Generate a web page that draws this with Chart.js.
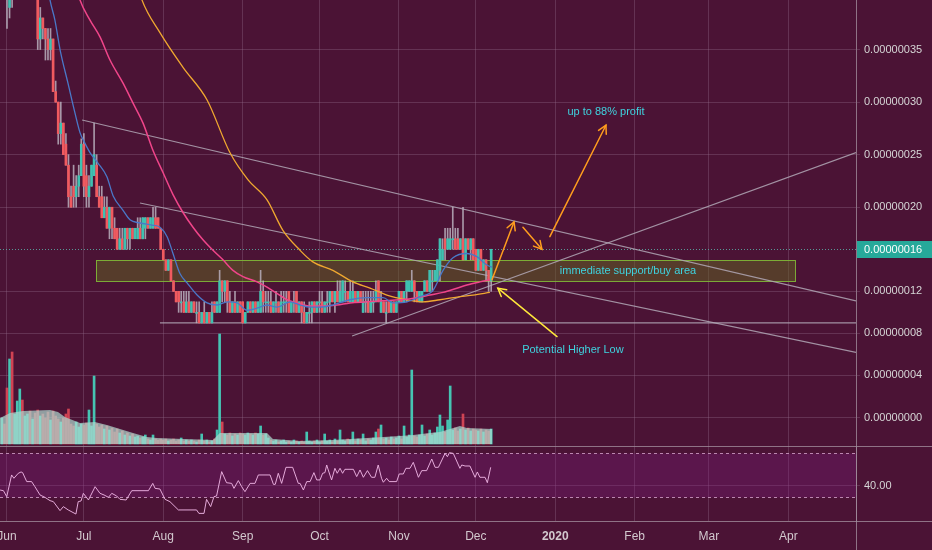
<!DOCTYPE html>
<html>
<head>
<meta charset="utf-8">
<script src="https://cdn.jsdelivr.net/npm/chart.js@4.4.1/dist/chart.umd.min.js"></script>
<style>
  html, body { margin: 0; padding: 0; background: #4b1335; }
  #wrap { position: relative; width: 932px; height: 550px; overflow: hidden; }
  #price { position: absolute; left: 0; top: 0; }
  #rsi { position: absolute; left: 0; top: 446px; }
</style>
</head>
<body>
<div id="wrap">
  <canvas id="price" width="932" height="446"></canvas>
  <canvas id="rsi" width="932" height="104"></canvas>
</div>
<script>
// Days are counted from 1 Jun 2019 (day 0). Prices are in satoshi (1e-8).
const FIRST_DAY = -2;            // first candle = 30 May 2019
const X_MIN = -2.73, X_MAX = 331.4;
const PRICE_MIN = -2.71, PRICE_MAX = 39.71;
const RSI_MIN = 8.32, RSI_MAX = 76.05;

// [open, high, low, close], one row per day
const ohlc = [
  [45,48,44,46],[46,47,42,43],[43,44,37,41],[39,44,38,41],[42,45,39,40],
  [41,46,40,45],[45,50,44,48],[48,52,45,49],[49,50,44,45],[45,49,43,47],
  [47,51,45,49],[49,50,44,45],[45,48,43,46],[46,47,42,43],[43,44,35,36],
  [36,39,35,38],[38,38,36,37],[37,37,34,36],[36,37,34,35],[35,37,34,36],
  [36,36,31,31],[31,32,30,30],[30,30,26,27],[27,30,26,28],[28,28,25,25],
  [26,27,24,24],[24,25,20,21],[21,22,20,20],[22,24,20,21],[21,23,20,22],
  [22,24,21,23],[23,26.5,23,26],[26,27,21,22],[23,24,20,21],[21,23,20,22],
  [22,24,22,24],[23,28,23,25],[24,25,21,21],[21,22,20,20],[21,22,19,19],
  [19,21,19,20],[20,21,18,18],[18,20,17,20],[20,20,17,18],[18,19,17,17],
  [18,18,16,16],[16,18,16,17],[17,18,16,16],[16,18,16,18],[18,18,16,17],
  [17,18,16,18],[18,18,17,17],[17,18,17,18],[17,19,17,18],[18,19,17,17],
  [17,19,17,19],[18,19,17,19],[19,19,18,18],[18,19,18,19],[18,20,18,19],
  [19,20,18,18],[19,19,18,18],[18,18,16,16],[16,16,15,15],[15,15,14,14],
  [14,15,14,15],[15,15,13,13],[13,13,12,12],[12,12,11,11],[12,12,10,11],
  [11,12,10,11],[11,12,10,10],[10,12,10,11],[11,12,10,10],[10,11,10,11],
  [11,11,10,10],[10,11,9,10],[10,11,9,9],[9,10,9,10],[10,11,9,9],
  [9,10,9,10],[10,10,9,9],[9,11,9,10],[11,11,10,10],[10,11,10,11],
  [10,14,10,13],[13,13,11,12],[12,13,11,13],[13,13,10,11],[11,12,10,10],
  [10,11,10,11],[11,12,10,10],[10,11,10,11],[11,11,10,10],[11,11,9,9],
  [9,10,9,10],[10,11,10,11],[11,11,10,10],[10,11,10,11],[11,11,10,10],
  [10,11,10,11],[10,14,10,12],[12,13,10,11],[11,12,10,11],[11,12,10,11],
  [11,12,10,10],[10,11,10,11],[11,12,10,11],[11,11,10,10],[10,12,10,11],
  [11,12,10,11],[11,12,10,11],[12,12,10,10],[10,11,10,11],[11,12,10,11],
  [12,12,10,10],[10,11,10,11],[11,11,9,10],[10,11,9,9],[9,10,9,10],
  [10,11,9,10],[10,11,9,11],[11,11,10,10],[10,11,10,11],[11,12,10,11],
  [11,12,10,10],[10,11,10,11],[11,12,10,11],[11,12,10,12],[12,12,11,11],
  [11,12,10,12],[12,13,11,11],[11,13,11,12],[11,13,11,13],[12,13,11,12],
  [12,12,11,11],[11,13,11,12],[11,13,11,12],[12,12,11,11],[11,12,11,12],
  [12,12,11,11],[10,12,10,11],[11,12,10,11],[11,12,10,10],[10,12,10,11],
  [11,12,10,11],[11,13,11,12],[13,13,11,11],[10,12,10,11],[11,11,10,10],
  [10,11,9,10],[11,11,10,10],[10,11,10,11],[11,11,10,10],[10,11,10,11],
  [11,12,11,12],[12,12,11,11],[11,12,11,12],[12,13,11,13],[12,13,12,13],
  [12,14,12,13],[13,13,11,12],[12,12,11,11],[11,12,11,12],[11,12,11,12],
  [12,13,12,13],[13,13,12,12],[12,14,12,14],[13,14,12,13],[13,14,13,14],
  [13,15,13,15],[14,17,13,17],[15,17,15,16],[17,18,15,16],[16,18,16,17],
  [16,18,16,17],[17,20,16,17],[17,18,16,16],[17,18,16,16],[16,17,16,17],
  [17,20,15,15],[15,17,15,17],[17,17,16,16],[16,17,15,17],[17,17,15,15],
  [16,16,14,14],[14,16,14,16],[16,16,14,14],[14,15,14,15],[15,15,13,14],
  [14,14,12,13],[13,16,12,16]
];

// volume, one value per day (same order as ohlc)
const volumes = [
  26,20,56,85,92,30,43,55,44,28,
  30,33,25,31,34,28,30,26,32,24,
  33,28,25,22,26,30,35,20,18,22,
  17,20,19,21,34,18,68,20,17,19,
  15,18,14,16,12,15,11,13,9,11,
  8,10,7,8,6,7,9,5,4,9,
  5,4,5,4,5,3,4,5,3,4,
  6,3,4,3,4,3,2,4,10,3,
  4,2,3,5,14,110,22,10,9,11,
  8,10,9,11,10,9,11,10,9,11,
  10,18,9,10,6,4,3,4,2,3,
  4,2,3,2,4,3,2,3,2,12,
  3,2,3,4,2,3,10,3,4,2,
  5,3,14,4,3,5,4,12,3,5,
  4,10,3,5,4,6,12,15,19,5,
  6,4,7,5,6,8,5,18,7,9,
  74,8,7,9,19,8,10,14,9,11,
  17,29,18,12,24,58,14,16,13,15,
  30,14,16,13,15,14,13,15,12,14,
  13,15
];

// volume moving average, [day, value]
const volumeMA = [
  [-2.7,26],[1.2,31],[6.2,33],[16.8,34],[19.9,32],[22.6,27],[28.5,21],[34.3,22],
  [39,19],[44.1,15],[49.2,11],[54.6,7],[58.5,6],[68.7,5],[80.4,4],[83.1,11],
  [101.5,11],[103.8,5],[114.4,3],[127.2,4],[140.5,6],[153.4,8],[158.5,9],
  [165.1,11],[169,12],[172.9,15],[176.8,18],[179.5,16],[189.3,15]
];

// moving averages, [day, price]
const maFast = [
  [15,42.5],[16.8,39.7],[18.7,37.8],[20.7,35],[23.8,31.8],[26.5,29],[28.5,27.1],
  [30.4,26.1],[32.4,25.2],[35.5,24.2],[39,22.9],[41.4,21.1],[45.3,19.7],[48,18.8],
  [51.9,18.5],[56.6,18.3],[59.7,18.1],[62.5,17.2],[64.8,15.6],[67.5,13.7],
  [70.3,12.8],[74.2,11.65],[78.1,10.9],[82,10.7],[85.9,11],[89.8,10.9],[93.7,10.2],
  [97.6,10.4],[101.5,10.7],[105.4,10.5],[110.5,11],[114.4,10.7],[118.3,10.5],
  [122.2,10.5],[127.2,10.7],[133.9,11.2],[140.5,11.4],[146.8,11.4],[150.7,10.9],
  [156.1,11],[161.2,11.5],[166.3,12.1],[170.2,14],[174.1,15.2],[179.5,15.6],
  [183.4,15.3],[187.3,14.5],[189.3,14.3]
];
const maMid = [
  [26,42],[28.5,39.7],[32.4,37.8],[36.3,36.2],[40.2,34],[45.3,31.8],[49.2,29.9],
  [53.1,28],[57,25.4],[60.9,23.3],[64.8,21.2],[68.7,19.5],[72.6,18.1],[76.5,16.9],
  [80.4,15.9],[84.3,15],[88.2,14],[92.1,13.4],[97.6,12.9],[101.5,12.4],[105.4,11.8],
  [109.3,11.2],[113.2,10.9],[118.3,10.6],[123.3,10.6],[128.8,10.7],[133.9,10.9],
  [140.5,11],[146.8,11.1],[153.4,11.2],[160,11.4],[165.1,11.65],[170.2,11.9],
  [175.6,12.3],[179.5,12.6],[184.6,12.9],[188.5,13.1]
];
const maSlow = [
  [50,42],[52.7,39.7],[59.7,36.6],[68.7,33.3],[78.1,30.2],[87,25.2],[94.1,22.6],
  [101.5,20.7],[107.7,17.8],[114.4,15.9],[119.4,14.8],[127.2,14],[135,12.9],
  [141.7,12.3],[148.3,11.65],[156.1,11.2],[162.4,11],[169,11.2],[176.8,11.5],
  [181.9,11.65],[188.5,11.9]
];

// RSI, [day, value]
const rsi = [
  [-2.7,36.3],[-1.4,35.7],[-0.1,30.3],[1.8,49.9],[2.7,46.9],[4.4,51.4],[5.5,52.6],
  [6.1,52],[7.7,43.9],[9.6,43.9],[10.9,39.3],[12.9,31.8],[14.8,29.7],[16.8,26.7],
  [18.1,25.8],[20.7,17.7],[22,21.3],[23.9,18.3],[26.9,14.6],[27.8,25.8],[28.9,26.4],
  [29.8,33.3],[31.8,27.3],[34.4,39.3],[36.3,33.3],[37.9,31.8],[39.6,29.7],[40.9,33.3],
  [42.8,30.9],[44.1,27.9],[46.5,27.3],[48.7,35.7],[55.2,35.7],[56.9,42.3],[57.8,37.8],
  [59.7,37.2],[61.7,27.9],[63.6,25.8],[66.9,18.3],[74,18.3],[74.9,15.2],[76.9,15.2],
  [77.9,27.9],[79.5,21.3],[80.8,30.3],[81.8,30.9],[83.8,52.9],[85.7,42.9],[87.7,42.3],
  [88.6,37.8],[90.3,44.8],[91.6,39.3],[92.9,34.8],[94.9,42.3],[96.8,42.3],[98.1,49.9],
  [102.7,49.9],[104,41.4],[104.7,41.4],[105.9,51.4],[107.2,42.3],[108.9,56.8],
  [111.5,56.8],[113.7,42.3],[114.4,42.3],[115.7,36.3],[117,43.9],[118.3,43.9],
  [119.8,52],[120.9,45.4],[122.2,45.4],[123.2,51.4],[124.1,52],[124.8,58.9],
  [125.4,54.4],[126.7,45.4],[128,55.9],[128.9,51.4],[130,55.9],[131,51.4],[131.9,55],
  [135.2,55],[136.5,48.4],[137.8,54.4],[139.1,47.8],[140.7,53.8],[142.3,47.8],
  [143.6,47.8],[144.9,58.9],[146.2,46.9],[146.9,43.3],[148.2,46.9],[149.2,43.9],
  [152.1,43.9],[153.1,50.8],[154.7,50.8],[155.7,55.9],[157.3,55.9],[158.6,61.3],
  [160.6,47.8],[161.9,53.8],[163.8,53.8],[165.8,64.3],[167.1,56.8],[168.4,56.8],
  [171,69.4],[171.9,66.4],[172.7,70],[174.2,69.4],[176.8,55.9],[177.5,58.9],
  [178.8,58],[180.7,58],[182.7,47.8],[183.6,52.6],[184.6,47.8],[186.6,47.8],
  [187.5,42.9],[188.8,56.8]
];
const rsiBand = [30, 70];

const monthTicks = [0, 30, 61, 92, 122, 153, 183, 214, 245, 274, 305];
const monthLabels = ['Jun', 'Jul', 'Aug', 'Sep', 'Oct', 'Nov', 'Dec', '2020', 'Feb', 'Mar', 'Apr'];
const priceTicks = [0, 4, 8, 12, 20, 25, 30, 35];
const lastPrice = 16;

// drawings on the chart, in [day, price]
const trendLines = [
  [[29.3, 28.3], [331.4, 11.1]],
  [[51.9, 20.4], [331.4, 6.2]],
  [[134.7, 7.75], [331.4, 25.2]],
  [[59.7, 9], [331.4, 9]],
];
const buyZone = { from: 34.7, to: 307.6, low: 13, high: 15 };
const arrows = [
  { from: [189.3, 13.1], to: [197.9, 18.6], kind: 'target' },
  { from: [201.4, 18.1], to: [208.8, 16.0], kind: 'target' },
  { from: [211.9, 17.2], to: [233.8, 27.8], kind: 'target' },
  { from: [214.7, 7.7], to: [191.6, 12.3], kind: 'support' },
];
const notes = [
  { text: 'up to 88% profit', at: [233.8, 29.05] },
  { text: 'immediate support/buy area', at: [242.4, 13.93] },
  { text: 'Potential Higher Low', at: [220.9, 6.42] },
];

const FONT = '"Liberation Sans", Arial, sans-serif';
const GRID = 'rgba(150,110,140,0.35)';
const AXIS = 'rgba(160,140,155,0.8)';
const UP = '#3ec1b1', DOWN = '#f05a5f';
const arrowColor = { target: '#ff9d1e', support: '#ffe83b' };
Chart.defaults.font.family = FONT;

const days = ohlc.map((_, i) => FIRST_DAY + i);
const isUp = ohlc.map(r => r[3] >= r[0]);
const pts = arr => arr.map(([x, y]) => ({ x, y }));

function arrowHead(ctx, x1, y1, x2, y2, len) {
  const a = Math.atan2(y2 - y1, x2 - x1);
  ctx.beginPath();
  ctx.moveTo(x2 - len * Math.cos(a - 0.5), y2 - len * Math.sin(a - 0.5));
  ctx.lineTo(x2, y2);
  ctx.lineTo(x2 - len * Math.cos(a + 0.5), y2 - len * Math.sin(a + 0.5));
  ctx.stroke();
}

const drawings = {
  id: 'drawings',
  beforeDatasetsDraw(chart) {
    const { ctx, chartArea: a, scales: { x, y } } = chart;
    ctx.save();
    ctx.beginPath();
    ctx.rect(a.left, a.top, a.right - a.left, a.bottom - a.top);
    ctx.clip();
    const x1 = Math.round(x.getPixelForValue(buyZone.from)), x2 = Math.round(x.getPixelForValue(buyZone.to));
    const y1 = Math.round(y.getPixelForValue(buyZone.high)), y2 = Math.round(y.getPixelForValue(buyZone.low));
    ctx.fillStyle = 'rgba(100,110,30,0.45)';
    ctx.fillRect(x1, y1, x2 - x1, y2 - y1);
    ctx.strokeStyle = 'rgba(130,185,55,0.9)';
    ctx.lineWidth = 1;
    ctx.strokeRect(x1 + 0.5, y1 + 0.5, x2 - x1, y2 - y1);
    // last price line
    const py = Math.round(y.getPixelForValue(lastPrice)) + 0.5;
    ctx.setLineDash([1, 2]);
    ctx.strokeStyle = 'rgba(90,185,175,0.8)';
    ctx.beginPath();
    ctx.moveTo(a.left, py);
    ctx.lineTo(a.right, py);
    ctx.stroke();
    ctx.restore();
  },
  afterDatasetsDraw(chart) {
    const { ctx, chartArea: a, scales: { x, y } } = chart;
    ctx.save();
    ctx.beginPath();
    ctx.rect(a.left, a.top, a.right - a.left, a.bottom - a.top);
    ctx.clip();
    ctx.lineWidth = 1.5;
    ctx.lineCap = 'round';
    arrows.forEach(ar => {
      const fx = x.getPixelForValue(ar.from[0]), fy = y.getPixelForValue(ar.from[1]);
      const tx = x.getPixelForValue(ar.to[0]), ty = y.getPixelForValue(ar.to[1]);
      ctx.strokeStyle = arrowColor[ar.kind];
      ctx.beginPath();
      ctx.moveTo(fx, fy);
      ctx.lineTo(tx, ty);
      ctx.stroke();
      arrowHead(ctx, fx, fy, tx, ty, 9);
    });
    ctx.font = '11px ' + FONT;
    ctx.textAlign = 'center';
    ctx.textBaseline = 'middle';
    ctx.fillStyle = '#3fd3df';
    notes.forEach(n => ctx.fillText(n.text, x.getPixelForValue(n.at[0]), y.getPixelForValue(n.at[1])));
    ctx.restore();
  },
  afterDraw(chart) {
    const { ctx, chartArea: a, scales: { y } } = chart;
    const py = Math.round(y.getPixelForValue(lastPrice));
    ctx.save();
    ctx.fillStyle = '#26a99a';
    ctx.fillRect(a.right + 1, py - 8, chart.width - a.right - 1, 17);
    ctx.fillStyle = '#ffffff';
    ctx.font = '11px ' + FONT;
    ctx.textBaseline = 'middle';
    ctx.fillText((lastPrice * 1e-8).toFixed(8), a.right + 8, py + 0.5);
    ctx.restore();
  }
};

const lineDs = (data, color, width, order) => ({
  type: 'line', data: pts(data), borderColor: color, borderWidth: width,
  pointRadius: 0, cubicInterpolationMode: 'monotone', fill: false, order
});

new Chart(document.getElementById('price'), {
  type: 'bar',
  data: {
    datasets: [
      {
        yAxisID: 'vol', order: 12, grouped: false, barThickness: 2,
        data: volumes.map((v, i) => ({ x: days[i], y: v })),
        backgroundColor: isUp.map(u => u ? 'rgba(70,205,185,0.95)' : 'rgba(215,70,85,0.95)')
      },
      {
        type: 'line', yAxisID: 'vol', order: 11, data: pts(volumeMA),
        fill: 'origin', backgroundColor: 'rgba(175,218,208,0.7)', borderWidth: 0, pointRadius: 0
      },
      ...trendLines.map(t => ({
        type: 'line', order: 10, data: pts(t), borderColor: 'rgba(178,168,182,0.85)',
        borderWidth: 1.2, pointRadius: 0, fill: false
      })),
      {
        order: 8, grouped: false, barThickness: 1,
        data: ohlc.map((r, i) => ({ x: days[i], y: [r[2], r[1]] })),
        backgroundColor: 'rgba(185,175,188,0.85)'
      },
      {
        order: 7, grouped: false, barThickness: 2, minBarLength: 1,
        data: ohlc.map((r, i) => ({ x: days[i], y: [r[0], r[3]] })),
        backgroundColor: isUp.map(u => u ? UP : DOWN)
      },
      lineDs(maSlow, '#f0a830', 1.3, 3),
      lineDs(maMid, '#f0458a', 1.5, 2),
      lineDs(maFast, '#4a78c8', 1.3, 1),
    ]
  },
  options: {
    responsive: false, animation: false, events: [],
    layout: { padding: 0 },
    plugins: { legend: { display: false }, tooltip: { enabled: false } },
    scales: {
      x: {
        type: 'linear', min: X_MIN, max: X_MAX, offset: false,
        afterBuildTicks: s => { s.ticks = monthTicks.map(v => ({ value: v })); },
        afterFit: s => { s.height = 0; s.paddingLeft = 0; s.paddingRight = 0; },
        ticks: { display: false },
        grid: { color: GRID, drawTicks: false, offset: false },
        border: { display: false }
      },
      y: {
        position: 'right', min: PRICE_MIN, max: PRICE_MAX,
        afterBuildTicks: s => { s.ticks = priceTicks.map(v => ({ value: v })); },
        afterFit: s => { s.width = 76; s.paddingTop = 0; s.paddingBottom = 0; },
        grid: { color: GRID, tickLength: 4 },
        border: { color: AXIS },
        ticks: { padding: 4, color: '#d6d6d6', font: { size: 11 }, callback: v => (v * 1e-8).toFixed(8) }
      },
      vol: { display: false, position: 'left', min: -2, max: 444 }
    }
  },
  plugins: [drawings]
});

const rsiPanel = {
  id: 'rsiPanel',
  beforeDatasetsDraw(chart) {
    const { ctx, chartArea: a, scales: { y } } = chart;
    const yTop = Math.round(y.getPixelForValue(rsiBand[1])) + 0.5;
    const yBot = Math.round(y.getPixelForValue(rsiBand[0])) + 0.5;
    ctx.save();
    ctx.fillStyle = 'rgba(130,30,130,0.3)';
    ctx.fillRect(a.left, yTop, a.right - a.left, yBot - yTop);
    ctx.strokeStyle = 'rgba(215,165,205,0.8)';
    ctx.lineWidth = 1;
    ctx.setLineDash([3, 3]);
    [yTop, yBot].forEach(py => {
      ctx.beginPath();
      ctx.moveTo(a.left, py);
      ctx.lineTo(a.right, py);
      ctx.stroke();
    });
    ctx.restore();
  },
  afterDraw(chart) {
    const { ctx, chartArea: a } = chart;
    ctx.save();
    ctx.strokeStyle = AXIS;
    ctx.lineWidth = 1;
    ctx.beginPath();
    ctx.moveTo(0, 0.5); ctx.lineTo(chart.width, 0.5);
    ctx.moveTo(0, a.bottom + 0.5); ctx.lineTo(chart.width, a.bottom + 0.5);
    ctx.moveTo(a.right + 0.5, 0); ctx.lineTo(a.right + 0.5, chart.height);
    ctx.stroke();
    ctx.restore();
  }
};

new Chart(document.getElementById('rsi'), {
  type: 'line',
  data: {
    datasets: [{
      data: pts(rsi), borderColor: 'rgba(236,178,226,0.95)', borderWidth: 1,
      pointRadius: 0, tension: 0, fill: false
    }]
  },
  options: {
    responsive: false, animation: false, events: [],
    layout: { padding: 0 },
    plugins: { legend: { display: false }, tooltip: { enabled: false } },
    scales: {
      x: {
        type: 'linear', min: X_MIN, max: X_MAX, offset: false,
        afterBuildTicks: s => { s.ticks = monthTicks.map(v => ({ value: v })); },
        afterFit: s => { s.height = 29; s.paddingLeft = 0; s.paddingRight = 0; },
        grid: { color: GRID, drawTicks: false },
        border: { display: false },
        ticks: {
          autoSkip: false, maxRotation: 0, padding: 8, color: '#d2c8ce',
          font: c => ({ size: 12, weight: (c.tick && monthLabels[monthTicks.indexOf(c.tick.value)] === '2020') ? 'bold' : 'normal' }),
          callback: v => monthLabels[monthTicks.indexOf(v)] ?? ''
        }
      },
      y: {
        position: 'right', min: RSI_MIN, max: RSI_MAX,
        afterBuildTicks: s => { s.ticks = [{ value: 40 }]; },
        afterFit: s => { s.width = 76; s.paddingTop = 0; s.paddingBottom = 0; },
        grid: { color: GRID, tickLength: 4 },
        border: { color: AXIS },
        ticks: { padding: 4, color: '#d6d6d6', font: { size: 11 }, callback: v => v.toFixed(2) }
      }
    }
  },
  plugins: [rsiPanel]
});
</script>
</body>
</html>
